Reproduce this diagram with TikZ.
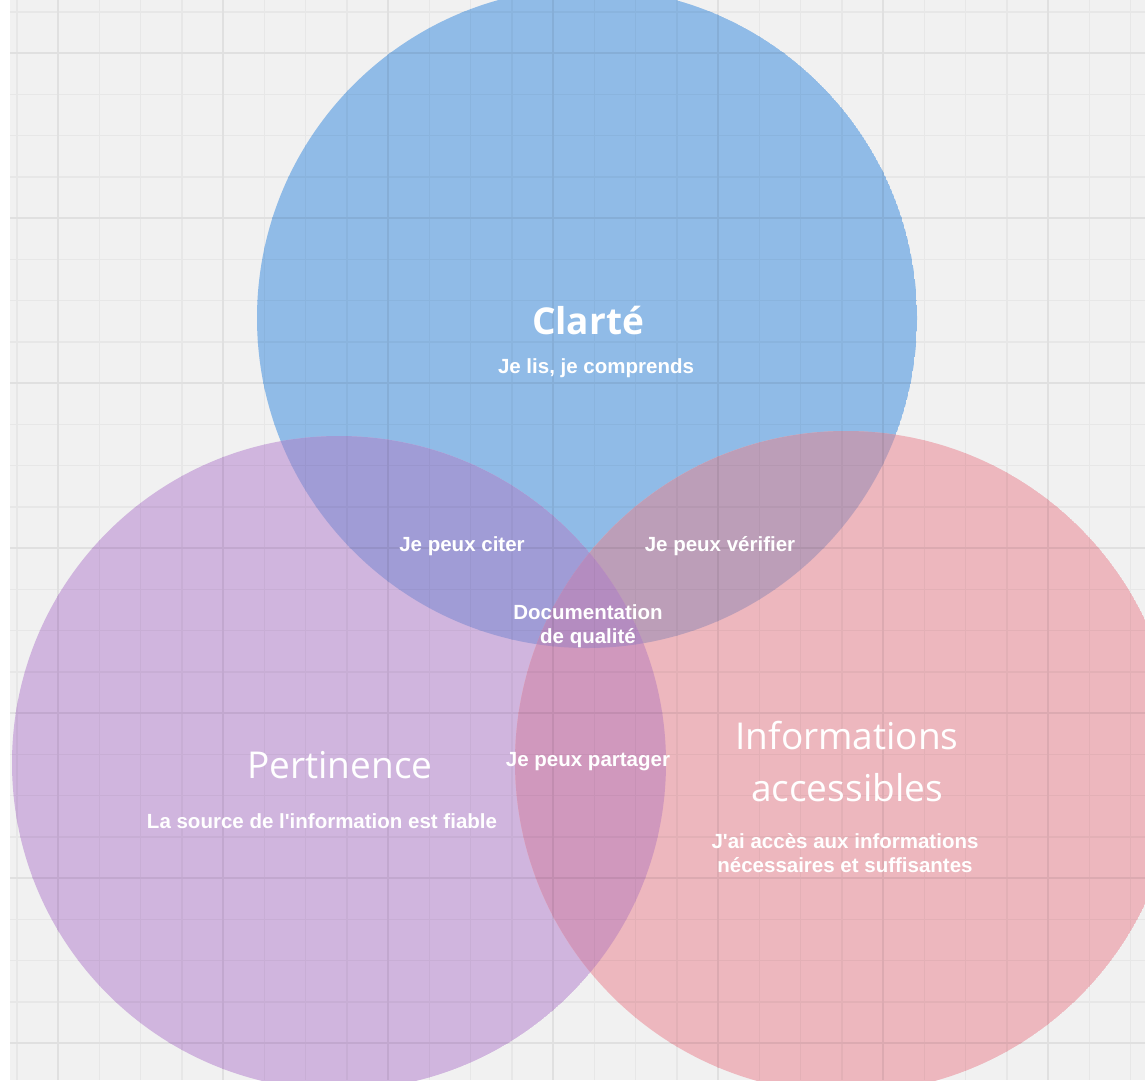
\documentclass[tikz,border=0pt]{standalone}
\usepackage{fontspec}
\setmainfont{Liberation Sans}
\newfontfamily\labfont{Liberation Sans}
\newfontfamily\osans{Open Sans}
\definecolor{bgc}{HTML}{F1F1F1}
\definecolor{cblue}{HTML}{90BBE7}
\definecolor{cpurp}{HTML}{D0B5DE}
\definecolor{cpink}{HTML}{EDB7BE}
\definecolor{cbp}{HTML}{A09CD6}
\definecolor{cbk}{HTML}{BC9EB8}
\definecolor{cpk}{HTML}{D098BD}
\definecolor{ctri}{HTML}{B48CC0}
\tikzset{
  lab/.style={text=white, font=\labfont\bfseries\fontsize{20.5}{24}\selectfont, align=center, inner sep=0pt},
  title/.style={text=white, font=\osans\fontsize{37}{52}\selectfont, align=center, inner sep=0pt}
}
\newcommand{\mygrid}[1]{%
  \foreach \i in {0,...,27} {
    \pgfmathsetmacro{\xx}{58+41.25*(\i-1)}
    \pgfmathsetmacro{\yy}{53+41.25*(\i-1)}
    \draw[#1!96!black, line width=1.5pt] (\xx,0) -- (\xx,1080);
    \draw[#1!96!black, line width=1.5pt] (10,\yy) -- (1145,\yy);
  }
  \foreach \k in {0,...,6} {
    \pgfmathsetmacro{\xx}{58+165*\k}
    \pgfmathsetmacro{\yy}{53+165*\k}
    \draw[#1!93!black, line width=1.8pt] (\xx,0) -- (\xx,1080);
    \draw[#1!93!black, line width=1.8pt] (10,\yy) -- (1145,\yy);
  }}
\begin{document}
\begin{tikzpicture}[x=1pt,y=-1pt]
\useasboundingbox (0,0) rectangle (1145,1080);
\fill[white] (0,0) rectangle (1145,1080);
\begin{scope}
  \clip (10,0) rectangle (1145,1080);
  \fill[bgc] (10,0) rectangle (1145,1080);
  \mygrid{bgc}
\end{scope}
\coordinate (B) at (587,318);
\coordinate (P) at (339,763);
\coordinate (K) at (846,762);
\begin{scope}\clip (B) circle (330pt); \fill[cblue] (B) circle (330pt); \mygrid{cblue} \end{scope}
\begin{scope}\clip (P) circle (327pt); \fill[cpurp] (P) circle (327pt); \mygrid{cpurp} \end{scope}
\begin{scope}\clip (K) circle (331pt); \fill[cpink] (K) circle (331pt); \mygrid{cpink} \end{scope}
\begin{scope}\clip (B) circle (330pt); \clip (P) circle (327pt); \fill[cbp] (P) circle (327pt); \mygrid{cbp} \end{scope}
\begin{scope}\clip (B) circle (330pt); \clip (K) circle (331pt); \fill[cbk] (K) circle (331pt); \mygrid{cbk} \end{scope}
\begin{scope}\clip (P) circle (327pt); \clip (K) circle (331pt); \fill[cpk] (K) circle (331pt); \mygrid{cpk} \end{scope}
\begin{scope}\clip (B) circle (330pt); \clip (P) circle (327pt); \clip (K) circle (331pt); \fill[ctri] (K) circle (331pt); \mygrid{ctri} \end{scope}
% texts
\node[text=white, font=\osans\bfseries\fontsize{37}{40}\selectfont, inner sep=0pt] (clarte) at (588,320) {Clarté};
\node[lab] (lis) at (596,368) {Je lis, je comprends};
\node[lab] (citer) at (462,546) {Je peux citer};
\node[lab] (verif) at (720,546) {Je peux vérifier};
\node[lab] (doc) at (588,626) {Documentation\\de qualité};
\node[title] (pert) at (340,765) {Pertinence};
\node[lab] (source) at (322,821) {La source de l'information est fiable};
\node[lab] (partager) at (588,762) {Je peux partager};
\node[title] (info) at (847,762) {Informations\\accessibles};
\node[lab] (acces) at (845,853) {J'ai accès aux informations\\nécessaires et suffisantes};
\end{tikzpicture}
\end{document}
